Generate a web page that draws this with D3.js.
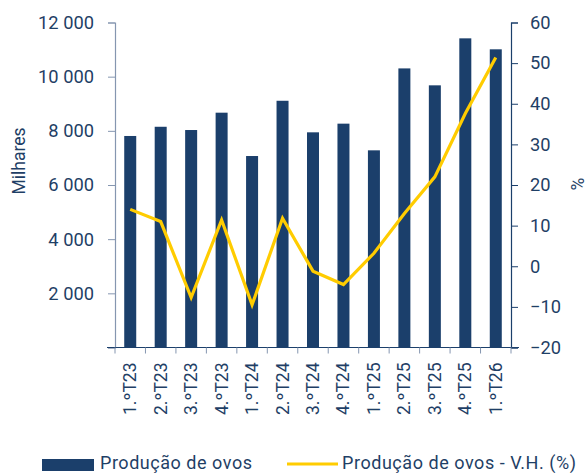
<!DOCTYPE html>
<html><head><meta charset="utf-8">
<script src="https://cdn.jsdelivr.net/npm/d3@7"></script>
<style>body{margin:0;background:#fff}svg{display:block}text{font-family:Roboto,"Noto Sans",sans-serif}</style>
</head><body><svg id="c" width="587" height="473"></svg>
<script>
const categories = ["1.ºT23","2.ºT23","3.ºT23","4.ºT23","1.ºT24","2.ºT24","3.ºT24","4.ºT24","1.ºT25","2.ºT25","3.ºT25","4.ºT25","1.ºT26"];
const production = [7810,8150,8030,8670,7070,9110,7945,8265,7280,10305,9680,11415,11010];
const growth = [14.0,11.0,-7.7,11.4,-9.5,11.8,-1.2,-4.5,3.2,13.0,22.0,37.6,51.4];
const leftTicks = [0,2000,4000,6000,8000,10000,12000];
const rightTicks = [-20,-10,0,10,20,30,40,50,60];
const seriesNames = ["Produção de ovos","Produção de ovos - V.H. (%)"];

const navy = "#1b3f6b", yellow = "#ffcc00", txt = "#1f3f66";
const svg = d3.select("#c");
const L = 115, R = 511, T = 22.5, B = 347.5;
const xb = d3.scaleBand().domain(categories).range([L, R]);
const y = d3.scaleLinear().domain([0, 12000]).range([B, T]);
const y2 = d3.scaleLinear().domain([-20, 60]).range([B, T]);
const fmt = d => d3.format(",")(d).replace(/,/g, " ");

svg.append("g").selectAll("rect").data(production).join("rect")
  .attr("x", (d,i) => xb(categories[i]) + xb.bandwidth()/2 - 6)
  .attr("width", 12)
  .attr("y", d => y(d)).attr("height", d => B - y(d)).attr("fill", navy);

// left axis
const gl = svg.append("g").attr("transform", `translate(${L},0)`)
  .call(d3.axisLeft(y).tickValues(leftTicks).tickFormat(d => d === 0 ? "" : fmt(d)).tickSize(7).tickPadding(14));
gl.select(".domain").attr("stroke", "#8596b0").attr("stroke-width", 1.2);
gl.selectAll(".tick line").attr("stroke", "#8596b0");
gl.selectAll("text").attr("fill", txt).attr("font-size", 18.3);

// right axis
const gr = svg.append("g").attr("transform", `translate(${R},0)`)
  .call(d3.axisRight(y2).tickValues(rightTicks).tickSize(7).tickPadding(12));
gr.select(".domain").attr("stroke", navy).attr("stroke-width", 1.2);
gr.selectAll(".tick line").attr("stroke", navy);
gr.selectAll("text").attr("fill", txt).attr("font-size", 18.3);

// x axis
const gx = svg.append("g").attr("transform", `translate(0,${B})`);
gx.append("line").attr("x1", L - 8).attr("x2", R + 8).attr("stroke", navy).attr("stroke-width", 1.2);
gx.selectAll(".tk").data(categories.concat(["_end"])).join("line")
  .attr("x1", (d,i) => L + i*xb.step()).attr("x2", (d,i) => L + i*xb.step())
  .attr("y1", 0).attr("y2", 6).attr("stroke", "#8596b0");
gx.selectAll(".lb").data(categories).join("text")
  .attr("transform", d => `translate(${xb(d)+xb.bandwidth()/2 + 6},15) rotate(-90)`)
  .attr("text-anchor", "end").attr("fill", txt).attr("font-size", 17.5).text(d => d);

// line
svg.append("path").datum(growth)
  .attr("d", d3.line().x((d,i) => xb(categories[i]) + xb.bandwidth()/2).y(d => y2(d)))
  .attr("fill", "none").attr("stroke", yellow).attr("stroke-width", 3.2).attr("stroke-linejoin", "miter");

// axis titles
svg.append("text").attr("transform", "translate(25,161) rotate(-90)").attr("text-anchor", "middle")
  .attr("fill", txt).attr("font-size", 17.5).text("Milhares");
svg.append("text").attr("transform", "translate(584,184) rotate(-90)").attr("text-anchor", "middle")
  .attr("fill", txt).attr("font-size", 17.5).text("%");

// legend
const lg = svg.append("g");
lg.append("rect").attr("x", 42).attr("y", 459).attr("width", 52).attr("height", 12).attr("fill", navy);
lg.append("text").attr("x", 100).attr("y", 469).attr("fill", txt).attr("font-size", 18)
  .attr("textLength", 152).attr("lengthAdjust", "spacing").text(seriesNames[0]);
lg.append("line").attr("x1", 287).attr("x2", 338).attr("y1", 464).attr("y2", 464).attr("stroke", yellow).attr("stroke-width", 3.2);
lg.append("text").attr("x", 342).attr("y", 469).attr("fill", txt).attr("font-size", 18)
  .attr("textLength", 234).attr("lengthAdjust", "spacing").text(seriesNames[1]);
</script></body></html>
